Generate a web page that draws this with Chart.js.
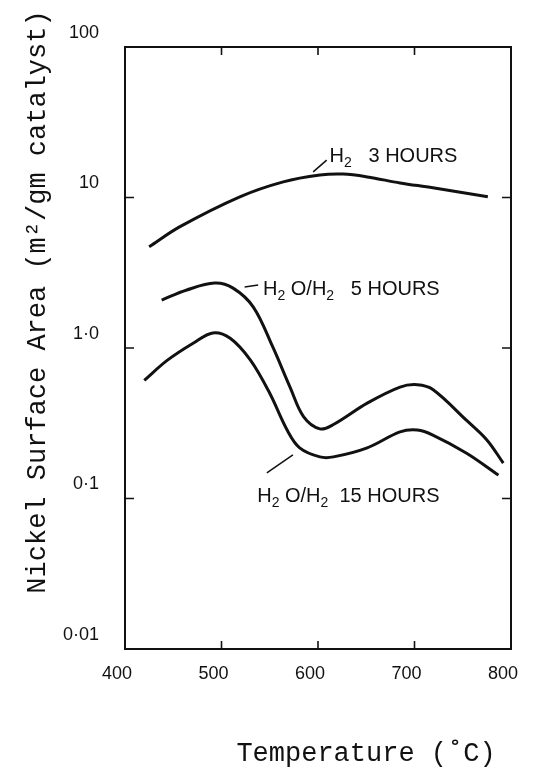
<!DOCTYPE html>
<html>
<head>
<meta charset="utf-8">
<script src="https://cdn.jsdelivr.net/npm/chart.js@4"></script>
<style>
  html, body { margin: 0; padding: 0; background: #fff; }
  #wrap { width: 534px; height: 776px; }
</style>
</head>
<body>
<div id="wrap"><canvas id="nickelChart" width="534" height="776"></canvas></div>
<script>
// values
const tempH2 = [425, 457, 519, 564, 602, 626, 651, 685, 719, 776];
const areaH2 = [4.7, 6.4, 10.1, 12.7, 14.1, 14.3, 13.7, 12.5, 11.6, 10.1];

const temp5h = [438, 464, 493, 512, 533, 553, 571, 585, 602, 616, 651, 685, 703, 719, 754, 775, 792];
const area5h = [2.08, 2.43, 2.70, 2.50, 1.87, 1.02, 0.55, 0.35, 0.29, 0.31, 0.43, 0.55, 0.57, 0.53, 0.33, 0.245, 0.172];

const temp15h = [420, 444, 471, 491, 509, 530, 550, 568, 581, 602, 616, 651, 685, 703, 719, 754, 787];
const area15h = [0.61, 0.83, 1.08, 1.26, 1.16, 0.83, 0.50, 0.285, 0.217, 0.189, 0.189, 0.217, 0.277, 0.285, 0.264, 0.200, 0.143];

const xTicks = [400, 500, 600, 700, 800];
const yTicks = [0.01, 0.1, 1, 10, 100];
const yTickText = { 0.01: "0·01", 0.1: "0·1", 1: "1·0", 10: "10", 100: "100" };

// curve labels: [x, y] anchor in data units, then text pieces (sub = subscript)
const curveLabels = [
    { at: [612, 17.2], parts: [["H"], ["2", true], ["   3 HOURS"]], lead: [[595, 14.8], [609, 17.7]] },
    { at: [543, 2.25], parts: [["H"], ["2", true], [" O/H"], ["2", true], ["   5 HOURS"]], lead: [[524, 2.54], [538, 2.62]] },
    { at: [537, 0.095], parts: [["H"], ["2", true], [" O/H"], ["2", true], ["  15 HOURS"]], lead: [[547, 0.148], [574, 0.195]] }
];

const toPoints = (xs, ys) => xs.map((x, i) => ({ x: x, y: ys[i] }));

function lineSet(xs, ys) {
    return {
        data: toPoints(xs, ys),
        borderColor: "#111",
        borderWidth: 3,
        pointRadius: 0,
        fill: false,
        tension: 0.35
    };
}

const framePlugin = {
    id: "frame",
    afterDraw(chart) {
        const ctx = chart.ctx;
        const a = chart.chartArea;
        const xs = chart.scales.x;
        const ys = chart.scales.y;

        ctx.save();
        ctx.strokeStyle = "#111";
        ctx.lineWidth = 2;
        ctx.strokeRect(a.left, a.top, a.right - a.left, a.bottom - a.top);

        // inward tick marks on all four sides
        ctx.lineWidth = 1.6;
        ctx.beginPath();
        xTicks.slice(1, -1).forEach(v => {
            const px = xs.getPixelForValue(v);
            ctx.moveTo(px, a.bottom); ctx.lineTo(px, a.bottom - 8);
            ctx.moveTo(px, a.top); ctx.lineTo(px, a.top + 8);
        });
        yTicks.slice(1, -1).forEach(v => {
            const py = ys.getPixelForValue(v);
            ctx.moveTo(a.left, py); ctx.lineTo(a.left + 9, py);
            ctx.moveTo(a.right, py); ctx.lineTo(a.right - 9, py);
        });
        ctx.stroke();

        // curve labels
        ctx.fillStyle = "#111";
        ctx.textBaseline = "alphabetic";
        curveLabels.forEach(lab => {
            let px = xs.getPixelForValue(lab.at[0]);
            const py = ys.getPixelForValue(lab.at[1]);
            lab.parts.forEach(p => {
                ctx.font = p[1] ? "14px 'Liberation Sans'" : "20px 'Liberation Sans'";
                ctx.fillText(p[0], px, p[1] ? py + 5 : py);
                px += ctx.measureText(p[0]).width;
            });
            ctx.beginPath();
            ctx.lineWidth = 1.5;
            ctx.moveTo(xs.getPixelForValue(lab.lead[0][0]), ys.getPixelForValue(lab.lead[0][1]));
            ctx.lineTo(xs.getPixelForValue(lab.lead[1][0]), ys.getPixelForValue(lab.lead[1][1]));
            ctx.stroke();
        });

        // axis titles
        ctx.font = "27px 'Liberation Mono'";
        ctx.textAlign = "center";
        ctx.fillText("Temperature (˚C)", 366, 761);

        ctx.translate(45, 302);
        ctx.rotate(-Math.PI / 2);
        ctx.fillText("Nickel Surface Area (m²/gm catalyst)", 0, 0);
        ctx.restore();
    }
};

new Chart("nickelChart", {
    type: "line",
    data: {
        datasets: [
            lineSet(tempH2, areaH2),
            lineSet(temp5h, area5h),
            lineSet(temp15h, area15h)
        ]
    },
    options: {
        responsive: false,
        animation: false,
        layout: { padding: { left: 0, right: 23, top: 47, bottom: 0 } },
        plugins: {
            legend: { display: false },
            tooltip: { enabled: false }
        },
        scales: {
            x: {
                type: "linear",
                min: 400,
                max: 800,
                afterBuildTicks: s => { s.ticks = xTicks.map(v => ({ value: v })); },
                afterFit: s => { s.height = 127; },
                grid: { display: false },
                border: { display: false },
                ticks: {
                    color: "#111",
                    font: { family: "'Liberation Sans'", size: 18 },
                    padding: 6,
                    labelOffset: -8,
                    maxRotation: 0,
                    callback: v => String(v)
                }
            },
            y: {
                type: "logarithmic",
                min: 0.01,
                max: 100,
                afterBuildTicks: s => { s.ticks = yTicks.map(v => ({ value: v })); },
                afterFit: s => { s.width = 125; },
                grid: { display: false },
                border: { display: false },
                ticks: {
                    color: "#111",
                    font: { family: "'Liberation Sans'", size: 18 },
                    padding: 18,
                    labelOffset: -14,
                    callback: v => yTickText[v]
                }
            }
        }
    },
    plugins: [framePlugin]
});
</script>
</body>
</html>
